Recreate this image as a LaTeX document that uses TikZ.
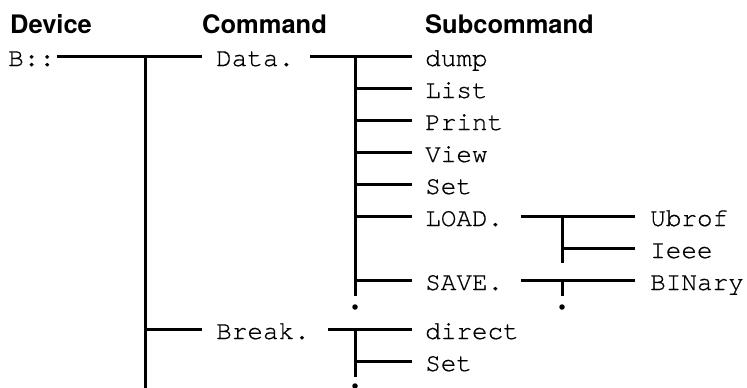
\documentclass[tikz,border=0pt]{standalone}
\usepackage{fontspec}
\newfontfamily\codefont[FakeBold=0.6]{TeX Gyre Cursor}
\newfontfamily\headfont{TeX Gyre Heros}
\usetikzlibrary{calc}
\begin{document}
\begin{tikzpicture}[x=1pt,y=-1pt,
  code/.style={anchor=base west, inner sep=0pt, text height=20pt, text depth=0pt,
    font=\codefont\fontsize{26}{26}\selectfont},
  head/.style={anchor=base west, inner sep=0pt,
    font=\headfont\bfseries\fontsize{25.5}{25.5}\selectfont},
  wire/.style={line width=3pt},
  tick/.style={fill, circle, inner sep=0pt, minimum size=5.5pt}]
\useasboundingbox (0,0) rectangle (747,388);

% column headings
\node[head] (hdev) at (10,33) {Device};
\node[head] (hcmd) at (202,33) {Command};
\node[head] (hsub) at (425,33) {Subcommand};

% device and commands
\node[code] (dev)  at (8,66)   {B::};
\node[code] (data) at (216,66) {Data.};
\node[code] (brk)  at (216,339) {Break.};

% subcommands
\node[code] (dump)  at (425,66)  {dump};
\node[code] (list)  at (425,98)  {List};
\node[code] (print) at (425,130) {Print};
\node[code] (view)  at (425,162) {View};
\node[code] (set)   at (425,194) {Set};
\node[code] (load)  at (425,226) {LOAD.};
\node[code] (save)  at (425,290) {SAVE.};
\node[code] (direct) at (425,339) {direct};
\node[code] (bset)  at (425,371) {Set};

% third level
\node[code] (ubrof)  at (650,226) {Ubrof};
\node[code] (ieee)   at (650,258) {Ieee};
\node[code] (binary) at (650,290) {BINary};

% junction points of the tree
\coordinate (j0)  at (145,56);
\coordinate (j0e) at (145,390);
\coordinate (j1)  at (355,56);
\coordinate (j1e) at (355,296);
\coordinate (j2)  at (562,216);
\coordinate (j2e) at (562,263);
\coordinate (j3)  at (562,280);
\coordinate (j3e) at (562,296);
\coordinate (j4)  at (355,329);
\coordinate (j4e) at (355,377);

% device -> commands
\draw[wire] ([xshift=2pt]dev.east) -- ([xshift=-14pt]data.west);
\draw[wire] (j0) -- (j0e);
\draw[wire] (j0 |- brk.west) -- ([xshift=-14pt]brk.west);

% Data. -> subcommands
\draw[wire] ([xshift=16pt]data.east) -- ([xshift=-13pt]dump.west);
\draw[wire] (j1) -- (j1e);
\foreach \s in {list,print,view,set,load,save}
  \draw[wire] (j1 |- \s.west) -- ([xshift=-13pt]\s.west);
\node[tick] (d1) at (355,307) {};

% LOAD. -> formats
\draw[wire] ([xshift=18pt]load.east) -- ([xshift=-15pt]ubrof.west);
\draw[wire] (j2) -- (j2e);
\draw[wire] (j2 |- ieee.west) -- ([xshift=-15pt]ieee.west);

% SAVE. -> formats
\draw[wire] ([xshift=18pt]save.east) -- ([xshift=-15pt]binary.west);
\draw[wire] (j3) -- (j3e);
\node[tick] (d2) at (562,307) {};

% Break. -> subcommands
\draw[wire] ([xshift=18pt]brk.east) -- ([xshift=-13pt]direct.west);
\draw[wire] (j4) -- (j4e);
\draw[wire] (j4 |- bset.west) -- ([xshift=-13pt]bset.west);
\node[tick] (d3) at (355,386) {};
\end{tikzpicture}
\end{document}
